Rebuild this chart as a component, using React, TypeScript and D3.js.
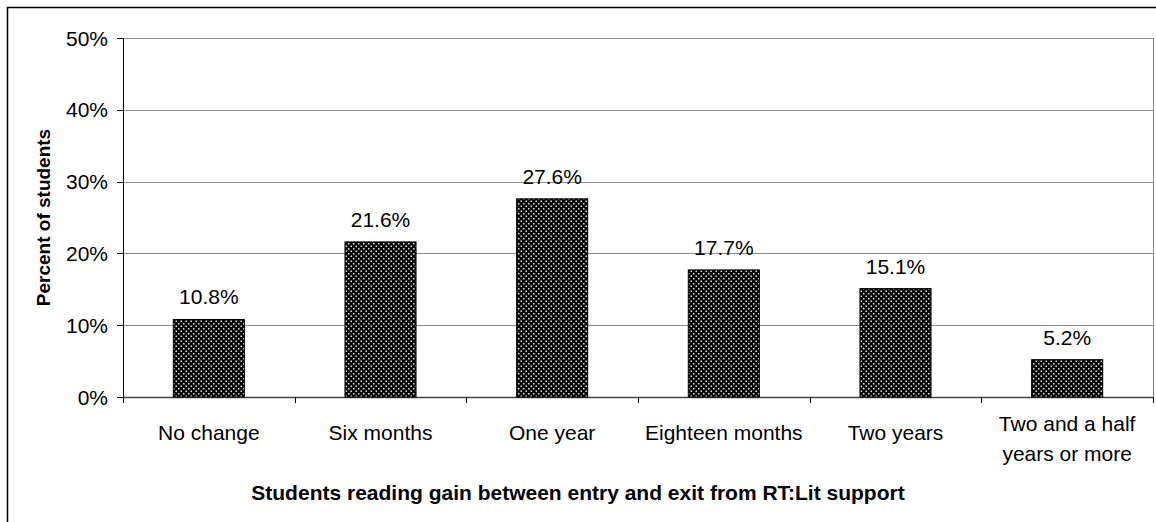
import React from "react";
import * as d3 from "d3";

const categories: string[][] = [
  ["No change"],
  ["Six months"],
  ["One year"],
  ["Eighteen months"],
  ["Two years"],
  ["Two and a half", "years or more"],
];
const values: number[] = [10.8, 21.6, 27.6, 17.7, 15.1, 5.2];
const yTicks: number[] = [0, 10, 20, 30, 40, 50];

const W = 1156;
const H = 522;
const plot = { left: 123, right: 1153, top: 38, bottom: 397 };
const FONT = "'Liberation Sans', Arial, sans-serif";
const FS = 21;

export default function App() {
  const x = d3
    .scaleBand<number>()
    .domain(d3.range(categories.length))
    .range([plot.left, plot.right])
    .paddingInner(0.586)
    .paddingOuter(0.293);
  const y = d3.scaleLinear().domain([0, 50]).range([plot.bottom, plot.top]);
  const step = x.step();

  return (
    <svg
      width={W}
      height={H}
      style={{ position: "absolute", left: 0, top: 0 }}
      fontFamily={FONT}
    >
      <defs>
        <pattern id="dots" width={5} height={5} patternUnits="userSpaceOnUse">
          <rect width={5} height={5} fill="#000" />
          <rect x={0.5} y={0.5} width={1.5} height={1.5} fill="#e0e0e0" />
          <rect x={3} y={3} width={1.5} height={1.5} fill="#e0e0e0" />
        </pattern>
      </defs>
      <rect x={0} y={0} width={W} height={H} fill="#fff" />
      {/* outer chart frame */}
      <rect x={7.5} y={7.5} width={W} height={H} fill="none" stroke="#000" strokeWidth={1.5} />

      {/* gridlines */}
      {yTicks.map((t) => (
        <line
          key={"g" + t}
          x1={plot.left}
          x2={plot.right}
          y1={Math.round(y(t)) + 0.5}
          y2={Math.round(y(t)) + 0.5}
          stroke={t === 0 ? "#444" : "#8c8c8c"}
          strokeWidth={t === 0 ? 1.5 : 1}
        />
      ))}
      <line x1={plot.right + 0.5} x2={plot.right + 0.5} y1={plot.top} y2={plot.bottom} stroke="#8c8c8c" />

      {/* bars */}
      {values.map((v, i) => (
        <rect
          key={"b" + i}
          x={x(i)}
          y={y(v)}
          width={x.bandwidth()}
          height={plot.bottom - y(v)}
          fill="url(#dots)"
          stroke="#000"
          strokeWidth={1}
        />
      ))}

      {/* value labels */}
      {values.map((v, i) => (
        <text
          key={"v" + i}
          x={(x(i) as number) + x.bandwidth() / 2}
          y={y(v) - 15}
          textAnchor="middle"
          fontSize={FS}
          fill="#000"
        >
          {v.toFixed(1)}%
        </text>
      ))}

      {/* y axis */}
      <line x1={plot.left + 0.5} x2={plot.left + 0.5} y1={plot.top} y2={plot.bottom} stroke="#000" />
      {yTicks.map((t) => (
        <g key={"t" + t}>
          <line
            x1={plot.left - 6}
            x2={plot.left}
            y1={Math.round(y(t)) + 0.5}
            y2={Math.round(y(t)) + 0.5}
            stroke="#000"
          />
          <text x={plot.left - 15} y={y(t) + 7.5} textAnchor="end" fontSize={FS} fill="#000">
            {t}%
          </text>
        </g>
      ))}

      {/* x axis category ticks */}
      {d3.range(categories.length + 1).map((i) => (
        <line
          key={"xt" + i}
          x1={Math.round(plot.left + i * step) + 0.5}
          x2={Math.round(plot.left + i * step) + 0.5}
          y1={plot.bottom}
          y2={plot.bottom + 6}
          stroke="#000"
        />
      ))}
      {categories.map((lines, i) => (
        <text
          key={"c" + i}
          x={(x(i) as number) + x.bandwidth() / 2}
          y={lines.length > 1 ? 431 : 439.5}
          textAnchor="middle"
          fontSize={FS}
          fill="#000"
        >
          {lines.map((l, j) => (
            <tspan key={j} x={(x(i) as number) + x.bandwidth() / 2} dy={j === 0 ? 0 : 30}>
              {l}
            </tspan>
          ))}
        </text>
      ))}

      {/* axis titles */}
      <text x={578} y={500} textAnchor="middle" fontSize={21} fontWeight="bold" fill="#000">
        Students reading gain between entry and exit from RT:Lit support
      </text>
      <text
        transform={`translate(49.5, ${(plot.top + plot.bottom) / 2}) rotate(-90)`}
        textAnchor="middle"
        fontSize={19}
        fontWeight="bold"
        fill="#000"
      >
        Percent of students
      </text>
    </svg>
  );
}
